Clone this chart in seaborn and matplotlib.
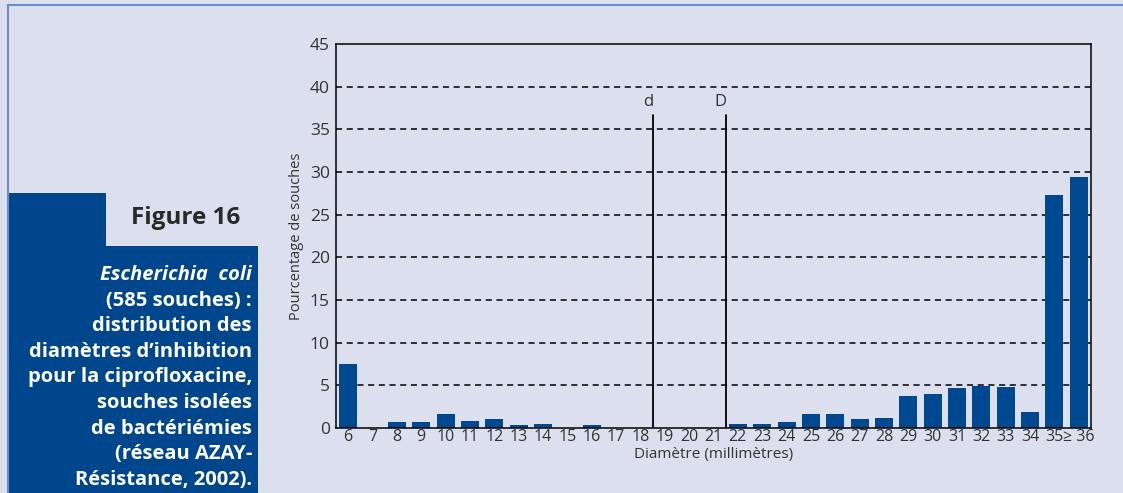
import matplotlib
matplotlib.use("Agg")
import matplotlib.pyplot as plt
import matplotlib.patches as mpatches
import seaborn as sns
import pandas as pd

# data
diametres = ["6", "7", "8", "9", "10", "11", "12", "13", "14", "15", "16", "17", "18",
             "19", "20", "21", "22", "23", "24", "25", "26", "27", "28", "29", "30",
             "31", "32", "33", "34", "35", "\u2265 36"]
pourcentages = [7.5, 0, 0.65, 0.65, 1.6, 0.8, 1.0, 0.3, 0.45, 0, 0.3, 0, 0,
                0, 0, 0, 0.45, 0.45, 0.7, 1.65, 1.65, 1.0, 1.15, 3.7, 4.0,
                4.65, 4.9, 4.8, 1.9, 27.3, 29.4]
y_ticks = [0, 5, 10, 15, 20, 25, 30, 35, 40, 45]
grid_vals = [5, 10, 15, 20, 25, 30, 35, 40]
breakpoints = {"d": "18", "D": "21"}   # lines drawn after these categories
bp_height = 36.7

caption = ["Escherichia  coli", "(585 souches) :", "distribution des",
           "diamètres d\u2019inhibition", "pour la ciprofloxacine,",
           "souches isolées", "de bactériémies", "(réseau AZAY-",
           "Résistance, 2002)."]

bg = "#dcdfee"
bar_blue = "#004990"
txt = "#333333"

sns.set_style("white")
plt.rcParams["font.family"] = ["Open Sans", "DejaVu Sans"]

df = pd.DataFrame({"diam": diametres, "pct": pourcentages})

fig = plt.figure(figsize=(11.23, 4.93), dpi=100, facecolor=bg)
ax = fig.add_axes([336 / 1123, 1 - 428 / 493, (1091 - 336) / 1123, (428 - 44) / 493])
ax.set_facecolor(bg)

# dashed grid behind the bars
for g in grid_vals:
    ax.axhline(g, color="black", ls=(0, (4, 3)), lw=1.1, zorder=0)

sns.barplot(data=df, x="diam", y="pct", color=bar_blue, saturation=1,
            width=0.74, linewidth=0, ax=ax, zorder=2)

ax.set_xlim(-0.5, len(diametres) - 0.5)
ax.set_ylim(0, 45)
ax.set_yticks(y_ticks)
ax.tick_params(axis="y", direction="inout", length=5, width=1, colors="black",
               labelcolor=txt, labelsize=12.5, pad=2)
ax.set_xticks(range(len(diametres)))
ax.set_xticklabels(diametres)
ax.tick_params(axis="x", length=0, labelcolor=txt, labelsize=11.5, pad=1)
ax.set_xticks([i - 0.5 for i in range(len(diametres) + 1)], minor=True)
ax.tick_params(axis="x", which="minor", direction="out", length=5, width=1, colors="black")

for s in ax.spines.values():
    s.set_color("black")
    s.set_linewidth(1.1)

ax.set_ylabel("Pourcentage de souches", fontsize=10.5, color=txt, labelpad=4)
ax.set_xlabel("Diamètre (millimètres)", fontsize=11, color=txt, labelpad=1)

for lab, cat in breakpoints.items():
    xpos = diametres.index(cat) + 0.5
    ax.plot([xpos, xpos], [0, bp_height], color="black", lw=1.3, zorder=3)
    ax.text(xpos - 0.2, bp_height + 0.6, lab, fontsize=12, color=txt,
            ha="center", va="bottom")

# left panel: blue frame, blue box and caption
fig.add_artist(plt.Line2D([8 / 1123, 1], [1 - 5 / 493, 1 - 5 / 493], color="#6b8fcc",
                          lw=1.5, transform=fig.transFigure))
fig.add_artist(plt.Line2D([8 / 1123, 8 / 1123], [1 - 5 / 493, 0], color="#6b8fcc",
                          lw=1.5, transform=fig.transFigure))
fig.add_artist(mpatches.Rectangle((8 / 1123, 1 - 246 / 493), (106 - 8) / 1123,
                                  (246 - 193) / 493, transform=fig.transFigure,
                                  color="#00468c", lw=0))
fig.add_artist(mpatches.Rectangle((8 / 1123, 0), (258 - 8) / 1123, 1 - 246 / 493,
                                  transform=fig.transFigure, color="#00468c", lw=0))

fig.text(240 / 1123, 1 - 218 / 493, "Figure 16", fontsize=17.5, fontweight="bold",
         color="#2a2a2a", ha="right", va="center")

for i, line in enumerate(caption):
    fig.text(252 / 1123, 1 - (275 + i * 25.6) / 493, line, fontsize=14.5,
             fontweight="bold", color="white", ha="right", va="center",
             style="italic" if i == 0 else "normal")

fig.savefig("out.png", dpi=100, facecolor=bg)
